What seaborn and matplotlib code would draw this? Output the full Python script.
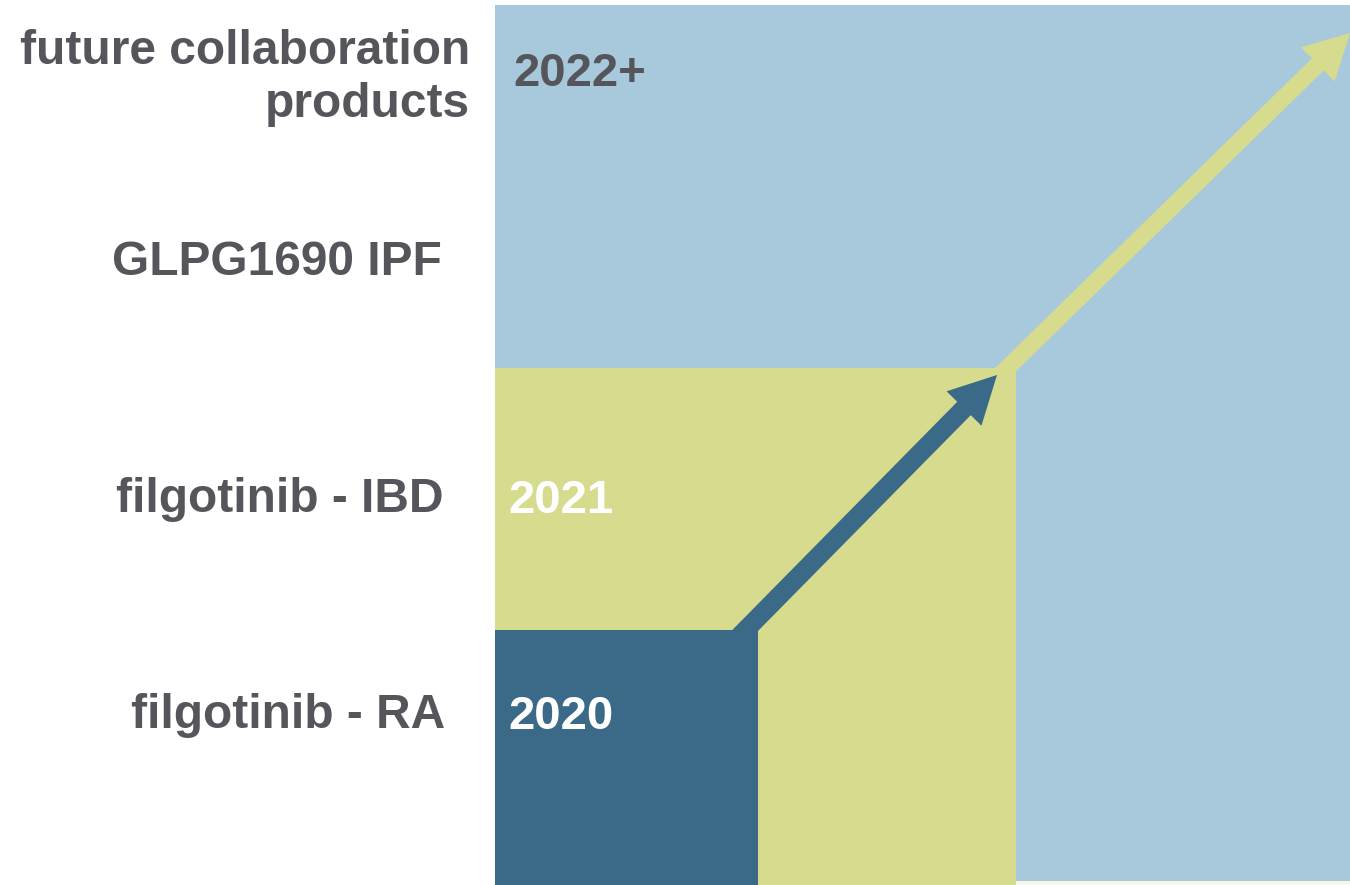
import seaborn as sns
import matplotlib.pyplot as plt

# Nested phase blocks (axes units = pixels from the block's lower left corner)
phases = ['2020', '2021', '2022+']
widths = [263, 521, 855]
heights = [255, 517, 876]
bottoms = [0, 0, 4]
colors = ['#3b6a88', '#d7db8e', '#a8c8db']
year_colors = ['white', 'white', '#55565b']

# Product labels on the left
products = ['filgotinib - RA', 'filgotinib - IBD', 'GLPG1690 IPF',
            'future collaboration\nproducts']

sns.set_theme(style='white')
plt.rcParams['font.family'] = ['Liberation Sans', 'DejaVu Sans']

fig = plt.figure(figsize=(13.5, 8.85), dpi=100)
ax = fig.add_axes([495 / 1350, 0, 855 / 1350, 1])
ax.set_xlim(0, 855)
ax.set_ylim(0, 885)
ax.axis('off')

# faint strip under the last block
ax.bar(0, 4, width=855, align='edge', color='#f6f6e9', linewidth=0, zorder=0)

# Draw largest first so smaller blocks sit on top
for i in reversed(range(len(phases))):
    ax.bar(0, heights[i], width=widths[i], bottom=bottoms[i], align='edge',
           color=colors[i], linewidth=0, zorder=1 + (2 - i))

# Arrows: green first, dark blue on top
ax.arrow(500, 505, 355, 347, width=17, head_width=48, head_length=45,
         length_includes_head=True, color=colors[1],
         linewidth=0, zorder=5, clip_on=False)
ax.arrow(225, 229, 277, 281, width=19, head_width=49, head_length=47,
         length_includes_head=True, color=colors[0],
         linewidth=0, zorder=6, clip_on=False)

# Year labels inside the blocks
year_pos = [(13, 168), (13, 384), (18, 811)]
for name, (x, y), c in zip(phases, year_pos, year_colors):
    ax.text(x, y, name, color=c, fontsize=34, fontweight='bold',
            ha='left', va='center', zorder=10)

# Product labels (figure pixel coords)
label_pos = [(445, 716), (443, 499), (442, 262), (470, 78)]
for name, (x, y) in zip(products, label_pos):
    fig.text(x / 1350, 1 - y / 885, name, color='#55565b', fontsize=34.5,
             fontweight='bold', ha='right', va='center', linespacing=1.23,
             multialignment='right')

fig.savefig('out.png', dpi=100)
